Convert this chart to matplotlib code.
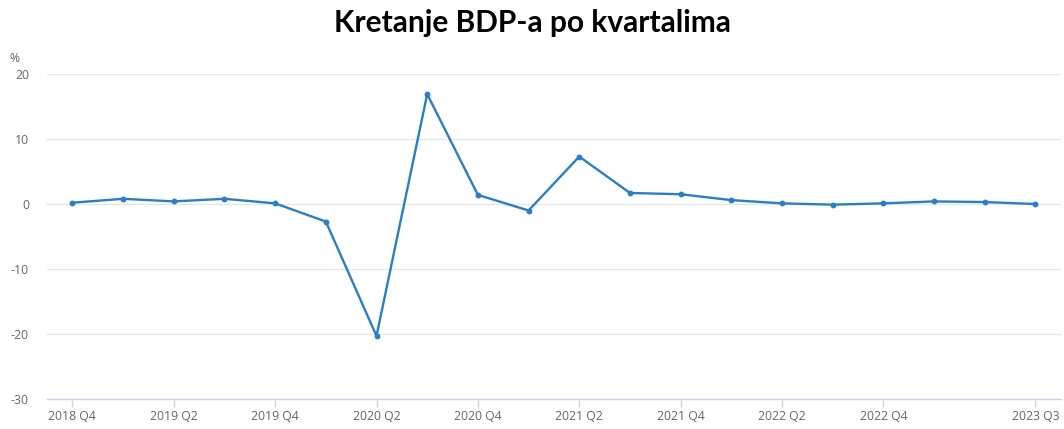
import matplotlib

matplotlib.use("Agg")
import matplotlib.pyplot as plt

# quarterly GDP change, %
quarters = [
    "2018 Q4", "2019 Q1", "2019 Q2", "2019 Q3", "2019 Q4",
    "2020 Q1", "2020 Q2", "2020 Q3", "2020 Q4",
    "2021 Q1", "2021 Q2", "2021 Q3", "2021 Q4",
    "2022 Q1", "2022 Q2", "2022 Q3", "2022 Q4",
    "2023 Q1", "2023 Q2", "2023 Q3",
]
gdp_change = [0.2, 0.8, 0.4, 0.8, 0.1, -2.7, -20.3, 16.9, 1.4, -1.0,
              7.3, 1.7, 1.5, 0.6, 0.1, -0.1, 0.1, 0.4, 0.3, 0.0]
tick_labels = ["2018 Q4", "2019 Q2", "2019 Q4", "2020 Q2", "2020 Q4",
               "2021 Q2", "2021 Q4", "2022 Q2", "2022 Q4", "2023 Q3"]
y_ticks = [-30, -20, -10, 0, 10, 20]

LINE = "#2a7fc4"
GRID = "#e6e6e6"
AXIS = "#ccd6eb"
TEXT = "#666666"

fig = plt.figure(figsize=(10.64, 4.29), dpi=100)
ax = fig.add_axes([0.0442, 0.0699, 0.9528, 0.7576])

x = list(range(len(quarters)))
ax.plot(x, gdp_change, color=LINE, lw=1.7, marker="o", ms=3.2, zorder=3)

ax.set_xlim(-0.5, len(quarters) - 0.5)
ax.set_ylim(-30, 20)
ax.set_yticks(y_ticks)
ax.set_yticklabels([str(v) for v in y_ticks], fontsize=8.8, color=TEXT,
                   family="Open Sans")
ax.set_xticks([quarters.index(q) for q in tick_labels])
ax.set_xticklabels(tick_labels, fontsize=8.8, color=TEXT, family="Open Sans")

ax.grid(axis="y", color=GRID, lw=1)
ax.set_axisbelow(True)
for s in ("top", "right", "left"):
    ax.spines[s].set_visible(False)
ax.spines["bottom"].set_color(AXIS)
ax.spines["bottom"].set_linewidth(1)
ax.tick_params(axis="y", length=0, pad=13)
ax.tick_params(axis="x", length=6, color=AXIS, width=1, pad=2)

fig.text(0.009, 0.855, "%", fontsize=8.8, color=TEXT, family="Open Sans")
fig.suptitle("Kretanje BDP-a po kvartalima", x=0.5, y=0.98, fontsize=21.5,
             fontweight="bold", family="Lato", va="top")

fig.savefig("out.png", dpi=100)
